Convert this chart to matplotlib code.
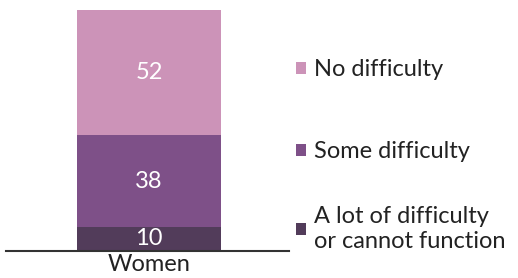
import matplotlib.pyplot as plt

plt.rcParams['font.family'] = ['Lato', 'DejaVu Sans']

categories = ['Women']
labels = ['A lot of difficulty\nor cannot function', 'Some difficulty', 'No difficulty']
values = [[10], [38], [52]]
colors = ['#523c5a', '#7e5088', '#cc93b8']

fig = plt.figure(figsize=(5.18, 2.78), dpi=100)
ax = fig.add_axes([6 / 518, 27 / 278, 283 / 518, 241 / 278])

bottom = [0] * len(categories)
for lab, vals, col in zip(labels, values, colors):
    bars = ax.bar(categories, vals, width=0.8, bottom=bottom, color=col, label=lab)
    ax.bar_label(bars, labels=[str(v) for v in vals], label_type='center',
                 color='white', fontsize=17)
    bottom = [b + v for b, v in zip(bottom, vals)]

ax.set_xlim(-0.794, 0.778)
ax.set_ylim(0, 100)
ax.set_yticks([])
ax.tick_params(axis='x', length=0, labelsize=17, pad=2, colors='#222222')
for s in ['top', 'right', 'left']:
    ax.spines[s].set_visible(False)
ax.spines['bottom'].set_color('#333333')
ax.spines['bottom'].set_linewidth(1.5)

# one legend per entry so the vertical positions can follow the original
h, l = ax.get_legend_handles_labels()
legend_y = [229, 152, 70]  # pixel rows from top, same order as labels
for handle, text, y in zip(h, l, legend_y):
    leg = fig.legend([handle], [text], loc='center left',
                     bbox_to_anchor=(296 / 518, 1 - y / 278),
                     frameon=False, fontsize=17, handlelength=0.42, handleheight=0.42,
                     handletextpad=0.35, borderpad=0, borderaxespad=0)
    for t in leg.get_texts():
        t.set_color('#222222')
        t.set_linespacing(1.25)

fig.savefig('out.png', dpi=100)
